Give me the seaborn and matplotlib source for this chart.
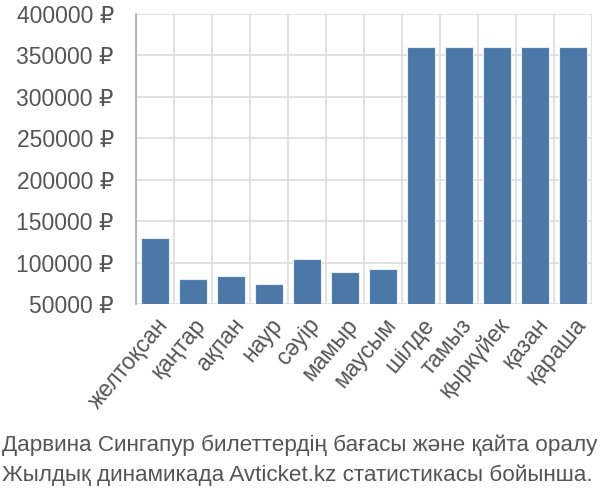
import matplotlib
matplotlib.use("Agg")
import matplotlib.pyplot as plt
import seaborn as sns
import pandas as pd
import numpy as np
from matplotlib.ticker import FixedLocator, FuncFormatter

months = ["желтоқсан", "қаңтар", "ақпан", "наур", "сәуір", "мамыр", "маусым",
          "шілде", "тамыз", "қыркүйек", "қазан", "қараша"]
prices = [130000, 80500, 83800, 74500, 104000, 88600, 91900,
          360000, 360000, 360000, 360000, 360000]
yticks = [50000, 100000, 150000, 200000, 250000, 300000, 350000, 400000]
caption = ["Дарвина Сингапур билеттердің бағасы және қайта оралу",
           "Жылдық динамикада Avticket.kz статистикасы бойынша."]

sns.set_theme(style="white")
plt.rcParams['font.family'] = ['Liberation Sans', 'DejaVu Sans']

df = pd.DataFrame({"month": months, "price": prices})

fig = plt.figure(figsize=(6, 5), dpi=100)
ax = fig.add_axes([136/600, 1-304/500, (592-136)/600, (304-14)/500])

sns.barplot(data=df, x="month", y="price", color="#4c78a8", width=0.72,
            edgecolor="#e6eef6", linewidth=0.8, saturation=1, ax=ax, zorder=3)

ax.set_ylim(50000, 400000)
ax.set_xlim(-0.5, len(months) - 0.5)
ax.yaxis.set_major_locator(FixedLocator(yticks))
ax.yaxis.set_major_formatter(FuncFormatter(lambda v, p: f"{int(v)} ₽"))
ax.set_xlabel("")
ax.set_ylabel("")

gcol = "#dddddd"
ax.xaxis.set_minor_locator(FixedLocator(np.arange(-0.5, len(months), 1.0)))
ax.grid(True, axis="y", which="major", color=gcol, linewidth=1.2, zorder=0)
ax.grid(True, axis="x", which="minor", color=gcol, linewidth=1.2, zorder=0)
ax.tick_params(axis="x", which="major", length=0, pad=7, labelsize=16.5, labelcolor="#555555")
ax.tick_params(axis="x", which="minor", length=13, width=1.2, color=gcol)
ax.tick_params(axis="y", which="major", length=15, width=1.2, color=gcol, pad=1,
               labelsize=16.5, labelcolor="#555555")
for lab in ax.get_xticklabels():
    lab.set_rotation(50)
    lab.set_ha("right")
    lab.set_rotation_mode("anchor")

for s in ["top", "right", "bottom"]:
    ax.spines[s].set_visible(False)
ax.spines["left"].set_color("#aaaaaa")
ax.spines["left"].set_linewidth(1.2)
ax.spines["left"].set_bounds(50000, 400000)

for i, line in enumerate(caption):
    fig.text(0.003, 1-(445 + 30*i)/500, line, fontsize=16.2, color="#555555", va="center")

fig.savefig("out.png", dpi=100)
